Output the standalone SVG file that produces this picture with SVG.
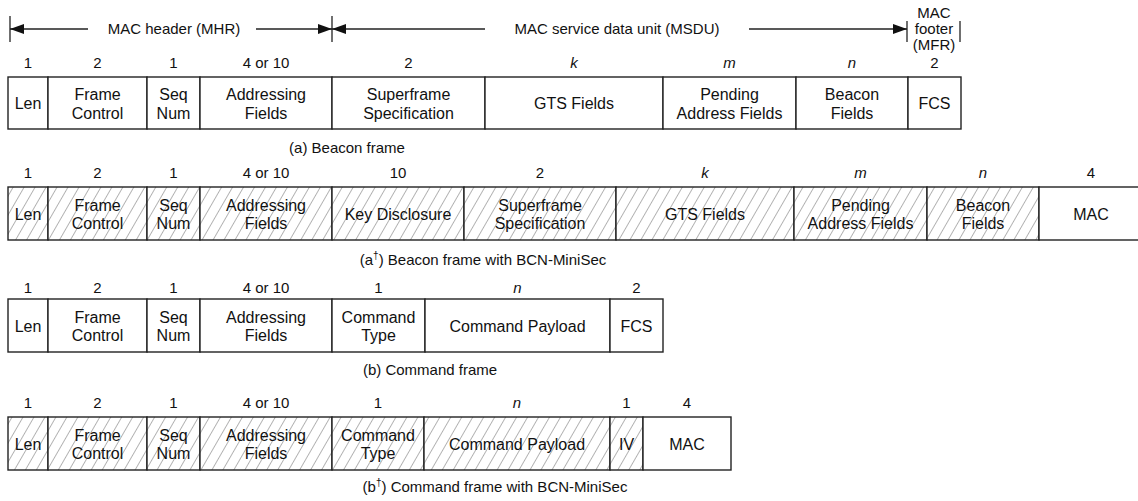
<svg xmlns="http://www.w3.org/2000/svg" width="1138" height="501" viewBox="0 0 1138 501">
<style>
text{font-family:"Liberation Sans",Arial,sans-serif;fill:#111;text-anchor:middle}
.f{font-size:16px}
.n{font-size:15px}
.i{font-style:italic}
.c{font-size:15px}
.box{stroke:#222;stroke-width:1.4;fill:#fff}
.hb{stroke:#222;stroke-width:1.4;fill:url(#hatch)}
.ln{stroke:#222;stroke-width:1.3;fill:none}
</style>
<defs>
<pattern id="hatch" patternUnits="userSpaceOnUse" width="9.5" height="10" patternTransform="rotate(30)">
<rect width="9.5" height="10" fill="#fff"/>
<line x1="0" y1="0" x2="0" y2="10" stroke="#6a6a6a" stroke-width="1"/>
</pattern>
<marker id="ah" viewBox="0 0 14 10" refX="14" refY="5" markerWidth="14" markerHeight="10" markerUnits="userSpaceOnUse" orient="auto">
<path d="M0,0 L14,5 L0,10 Z" fill="#111"/>
</marker>
</defs>

<g id="connectors">
<line class="ln" x1="10" y1="16" x2="10" y2="42"/>
<line class="ln" x1="332" y1="16" x2="332" y2="42"/>
<line class="ln" x1="907" y1="21" x2="907" y2="42"/>
<line class="ln" x1="960" y1="21" x2="960" y2="42"/>
<line class="ln" x1="88" y1="29" x2="10" y2="29" marker-end="url(#ah)"/>
<line class="ln" x1="256" y1="29" x2="332" y2="29" marker-end="url(#ah)"/>
<line class="ln" x1="485" y1="29" x2="332" y2="29" marker-end="url(#ah)"/>
<line class="ln" x1="749" y1="29" x2="907" y2="29" marker-end="url(#ah)"/>
</g>

<g id="header-labels">
<text class="n" x="174" y="34">MAC header (MHR)</text>
<text class="n" x="617" y="34">MAC service data unit (MSDU)</text>
<text class="n" x="934" y="18">MAC</text>
<text class="n" x="934" y="34">footer</text>
<text class="n" x="934" y="50">(MFR)</text>
</g>

<!-- Row (a) -->
<g id="row-a">
<g id="a-len"><rect class="box" x="8" y="77" width="40" height="52"/><text class="n" x="28" y="68">1</text><text class="f" x="28" y="109">Len</text></g>
<g id="a-fc"><rect class="box" x="48" y="77" width="99" height="52"/><text class="n" x="97.5" y="68">2</text><text class="f" x="97.5" y="100">Frame</text><text class="f" x="97.5" y="118.5">Control</text></g>
<g id="a-seq"><rect class="box" x="147" y="77" width="53" height="52"/><text class="n" x="173.5" y="68">1</text><text class="f" x="173.5" y="100">Seq</text><text class="f" x="173.5" y="118.5">Num</text></g>
<g id="a-addr"><rect class="box" x="200" y="77" width="132" height="52"/><text class="n" x="266" y="68">4 or 10</text><text class="f" x="266" y="100">Addressing</text><text class="f" x="266" y="118.5">Fields</text></g>
<g id="a-sf"><rect class="box" x="332" y="77" width="153" height="52"/><text class="n" x="408.5" y="68">2</text><text class="f" x="408.5" y="100">Superframe</text><text class="f" x="408.5" y="118.5">Specification</text></g>
<g id="a-gts"><rect class="box" x="485" y="77" width="178" height="52"/><text class="n i" x="574" y="68">k</text><text class="f" x="574" y="109">GTS Fields</text></g>
<g id="a-pend"><rect class="box" x="663" y="77" width="133" height="52"/><text class="n i" x="729.5" y="68">m</text><text class="f" x="729.5" y="100">Pending</text><text class="f" x="729.5" y="118.5">Address Fields</text></g>
<g id="a-bcn"><rect class="box" x="796" y="77" width="112" height="52"/><text class="n i" x="852" y="68">n</text><text class="f" x="852" y="100">Beacon</text><text class="f" x="852" y="118.5">Fields</text></g>
<g id="a-fcs"><rect class="box" x="908" y="77" width="53" height="52"/><text class="n" x="934.5" y="68">2</text><text class="f" x="934.5" y="109">FCS</text></g>
<text class="c" x="347" y="153">(a) Beacon frame</text>
</g>

<!-- Row (a†) -->
<g id="row-a2">
<g id="a2-len"><rect class="hb" x="8" y="187" width="40" height="53"/><text class="n" x="28" y="178">1</text><text class="f" x="28" y="219.5">Len</text></g>
<g id="a2-fc"><rect class="hb" x="48" y="187" width="99" height="53"/><text class="n" x="97.5" y="178">2</text><text class="f" x="97.5" y="210.5">Frame</text><text class="f" x="97.5" y="229">Control</text></g>
<g id="a2-seq"><rect class="hb" x="147" y="187" width="53" height="53"/><text class="n" x="173.5" y="178">1</text><text class="f" x="173.5" y="210.5">Seq</text><text class="f" x="173.5" y="229">Num</text></g>
<g id="a2-addr"><rect class="hb" x="200" y="187" width="132" height="53"/><text class="n" x="266" y="178">4 or 10</text><text class="f" x="266" y="210.5">Addressing</text><text class="f" x="266" y="229">Fields</text></g>
<g id="a2-key"><rect class="hb" x="332" y="187" width="132" height="53"/><text class="n" x="398" y="178">10</text><text class="f" x="398" y="219.5">Key Disclosure</text></g>
<g id="a2-sf"><rect class="hb" x="464" y="187" width="152" height="53"/><text class="n" x="540" y="178">2</text><text class="f" x="540" y="210.5">Superframe</text><text class="f" x="540" y="229">Specification</text></g>
<g id="a2-gts"><rect class="hb" x="616" y="187" width="178" height="53"/><text class="n i" x="705" y="178">k</text><text class="f" x="705" y="219.5">GTS Fields</text></g>
<g id="a2-pend"><rect class="hb" x="794" y="187" width="133" height="53"/><text class="n i" x="860.5" y="178">m</text><text class="f" x="860.5" y="210.5">Pending</text><text class="f" x="860.5" y="229">Address Fields</text></g>
<g id="a2-bcn"><rect class="hb" x="927" y="187" width="112" height="53"/><text class="n i" x="983" y="178">n</text><text class="f" x="983" y="210.5">Beacon</text><text class="f" x="983" y="229">Fields</text></g>
<g id="a2-mac"><rect class="box" x="1039" y="187" width="106" height="53"/><text class="n" x="1091" y="178">4</text><text class="f" x="1091" y="219.5">MAC</text></g>
<text class="c" x="483" y="265">(a<tspan font-size="10" dy="-6">†</tspan><tspan dy="6">) Beacon frame with BCN-MiniSec</tspan></text>
</g>

<!-- Row (b) -->
<g id="row-b">
<g id="b-len"><rect class="box" x="8" y="299" width="40" height="53"/><text class="n" x="28" y="293">1</text><text class="f" x="28" y="331.5">Len</text></g>
<g id="b-fc"><rect class="box" x="48" y="299" width="99" height="53"/><text class="n" x="97.5" y="293">2</text><text class="f" x="97.5" y="322.5">Frame</text><text class="f" x="97.5" y="341">Control</text></g>
<g id="b-seq"><rect class="box" x="147" y="299" width="53" height="53"/><text class="n" x="173.5" y="293">1</text><text class="f" x="173.5" y="322.5">Seq</text><text class="f" x="173.5" y="341">Num</text></g>
<g id="b-addr"><rect class="box" x="200" y="299" width="132" height="53"/><text class="n" x="266" y="293">4 or 10</text><text class="f" x="266" y="322.5">Addressing</text><text class="f" x="266" y="341">Fields</text></g>
<g id="b-ct"><rect class="box" x="332" y="299" width="93" height="53"/><text class="n" x="378.5" y="293">1</text><text class="f" x="378.5" y="322.5">Command</text><text class="f" x="378.5" y="341">Type</text></g>
<g id="b-pl"><rect class="box" x="425" y="299" width="185" height="53"/><text class="n i" x="517.5" y="293">n</text><text class="f" x="517.5" y="331.5">Command Payload</text></g>
<g id="b-fcs"><rect class="box" x="610" y="299" width="53" height="53"/><text class="n" x="636.5" y="293">2</text><text class="f" x="636.5" y="331.5">FCS</text></g>
<text class="c" x="430" y="375">(b) Command frame</text>
</g>

<!-- Row (b†) -->
<g id="row-b2">
<g id="b2-len"><rect class="hb" x="8" y="417" width="40" height="53"/><text class="n" x="28" y="408">1</text><text class="f" x="28" y="449.5">Len</text></g>
<g id="b2-fc"><rect class="hb" x="48" y="417" width="99" height="53"/><text class="n" x="97.5" y="408">2</text><text class="f" x="97.5" y="440.5">Frame</text><text class="f" x="97.5" y="459">Control</text></g>
<g id="b2-seq"><rect class="hb" x="147" y="417" width="53" height="53"/><text class="n" x="173.5" y="408">1</text><text class="f" x="173.5" y="440.5">Seq</text><text class="f" x="173.5" y="459">Num</text></g>
<g id="b2-addr"><rect class="hb" x="200" y="417" width="132" height="53"/><text class="n" x="266" y="408">4 or 10</text><text class="f" x="266" y="440.5">Addressing</text><text class="f" x="266" y="459">Fields</text></g>
<g id="b2-ct"><rect class="hb" x="332" y="417" width="92" height="53"/><text class="n" x="378" y="408">1</text><text class="f" x="378" y="440.5">Command</text><text class="f" x="378" y="459">Type</text></g>
<g id="b2-pl"><rect class="hb" x="424" y="417" width="186" height="53"/><text class="n i" x="517" y="408">n</text><text class="f" x="517" y="449.5">Command Payload</text></g>
<g id="b2-iv"><rect class="hb" x="610" y="417" width="33" height="53"/><text class="n" x="626.5" y="408">1</text><text class="f" x="626.5" y="449.5">IV</text></g>
<g id="b2-mac"><rect class="box" x="643" y="417" width="88" height="53"/><text class="n" x="687" y="408">4</text><text class="f" x="687" y="449.5">MAC</text></g>
<text class="c" x="495" y="492">(b<tspan font-size="10" dy="-6">†</tspan><tspan dy="6">) Command frame with BCN-MiniSec</tspan></text>
</g>
</svg>
